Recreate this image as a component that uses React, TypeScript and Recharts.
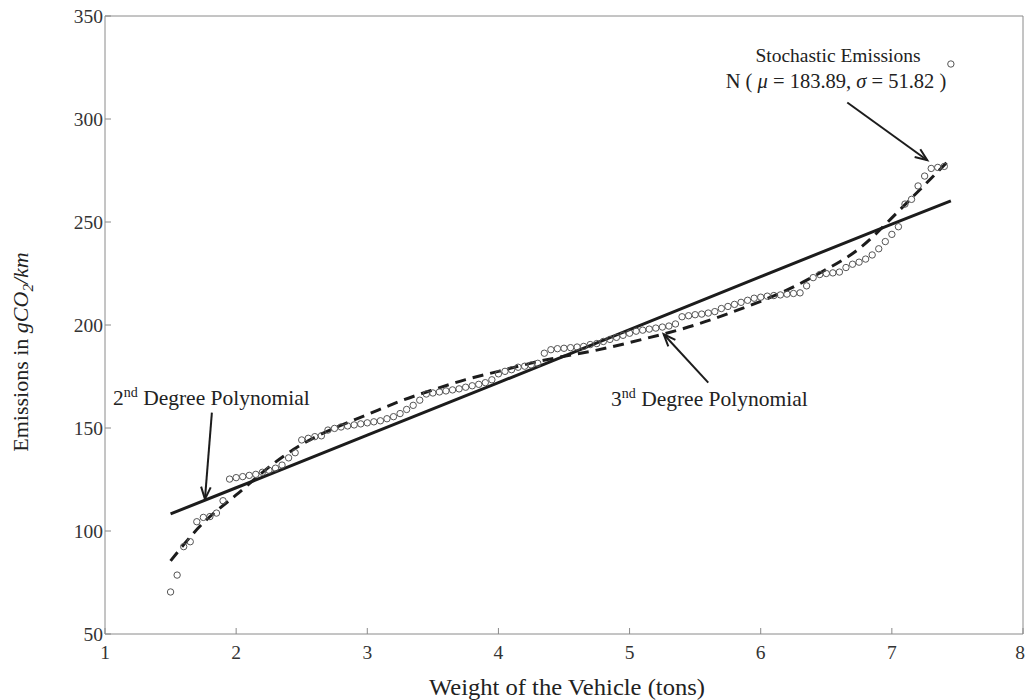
import React from "react"
import {
  ComposedChart,
  Scatter,
  Line,
  XAxis,
  YAxis,
  ReferenceLine,
} from "recharts"

const SERIF = "'Liberation Serif', 'Times New Roman', serif"

// vehicle weight (tons) for each sorted emission sample
const weights = [
  1.5, 1.55, 1.6, 1.65, 1.7, 1.75, 1.8, 1.85, 1.9, 1.95,
  2.0, 2.05, 2.1, 2.15, 2.2, 2.25, 2.3, 2.35, 2.4, 2.45,
  2.5, 2.55, 2.6, 2.65, 2.7, 2.75, 2.8, 2.85, 2.9, 2.95,
  3.0, 3.05, 3.1, 3.15, 3.2, 3.25, 3.3, 3.35, 3.4, 3.45,
  3.5, 3.55, 3.6, 3.65, 3.7, 3.75, 3.8, 3.85, 3.9, 3.95,
  4.0, 4.05, 4.1, 4.15, 4.2, 4.25, 4.3, 4.35, 4.4, 4.45,
  4.5, 4.55, 4.6, 4.65, 4.7, 4.75, 4.8, 4.85, 4.9, 4.95,
  5.0, 5.05, 5.1, 5.15, 5.2, 5.25, 5.3, 5.35, 5.4, 5.45,
  5.5, 5.55, 5.6, 5.65, 5.7, 5.75, 5.8, 5.85, 5.9, 5.95,
  6.0, 6.05, 6.1, 6.15, 6.2, 6.25, 6.3, 6.35, 6.4, 6.45,
  6.5, 6.55, 6.6, 6.65, 6.7, 6.75, 6.8, 6.85, 6.9, 6.95,
  7.0, 7.05, 7.1, 7.15, 7.2, 7.25, 7.3, 7.35, 7.4, 7.45,
]

// stochastic emissions (gCO2/km)
const emissions = [
  70.4, 78.6, 92.4, 94.8, 104.5, 106.6, 107, 108.7, 114.7, 125.2,
  125.9, 126.4, 127, 127.5, 128.5, 129.5, 130.5, 132, 135.5, 138,
  144.2, 145, 145.8, 146.2, 149, 149.8, 150.5, 151, 151.5, 152,
  152.5, 153, 153.5, 154.5, 155.5, 157, 159, 161, 163.5, 166.5,
  167, 167.5, 168, 168.5, 169, 169.8, 170.5, 171.2, 172, 173.4,
  176.3, 177.5, 178.3, 179.5, 180, 180.6, 181.4, 186.3, 188, 188.5,
  188.7, 189, 189.3, 189.6, 190.5, 191, 192, 193, 194, 195,
  196, 197, 197.5, 198, 198.5, 199, 199.5, 200.5, 204, 204.5,
  205, 205.3, 205.8, 206.5, 208, 209, 210, 211, 212, 213,
  213.5, 214, 214.3, 214.6, 215, 215.3, 215.6, 219, 223, 224.5,
  225, 225.3, 225.7, 227.9, 229.5, 230.5, 232, 234, 237, 240.5,
  244, 247.7, 258.7, 261, 267.5, 272.3, 276, 276.5, 277, 326.7,
]

// 2nd degree polynomial fit
const quadX = [1.5, 2, 3, 4, 5, 6, 7, 7.45]
const quadY = [108.3, 121, 146.5, 172, 197.8, 223.5, 249, 260.3]

// 3rd degree polynomial fit
const cubicX = [1.5, 1.75, 2, 2.25, 2.5, 2.75, 3, 3.25, 3.5, 3.75, 4, 4.25, 4.5, 4.75, 5, 5.25, 5.5, 5.75, 6, 6.25, 6.5, 6.75, 7, 7.25, 7.42]
const cubicY = [85.5, 104, 117.5, 131, 142, 150, 156.5, 163, 168.5, 173.5, 177.5, 181.5, 184.8, 187.8, 191.5, 195.5, 200, 205.5, 211.5, 218.5, 227, 237, 252, 268, 279]

const xTicks = [1, 2, 3, 4, 5, 6, 7, 8]
const yTicks = [50, 100, 150, 200, 250, 300, 350]

const scatterData = weights.map((x, i) => ({ x, y: emissions[i] }))
const quadData = quadX.map((x, i) => ({ x, y: quadY[i] }))
const cubicData = cubicX.map((x, i) => ({ x, y: cubicY[i] }))

// arrow annotations, data coordinates [from, to]
const arrows = [
  [{ x: 6.66, y: 308 }, { x: 7.27, y: 280 }],
  [{ x: 1.815, y: 157.5 }, { x: 1.762, y: 115.5 }],
  [{ x: 5.6, y: 172 }, { x: 5.26, y: 195.5 }],
]

const AXIS = "#8a8a8a"
const INK = "#1c1c1c"

function Circle(props: any) {
  const { cx, cy } = props
  if (cx == null || cy == null) return null
  return <circle cx={cx} cy={cy} r={3.2} fill="none" stroke="#555" strokeWidth={1} />
}

function Arrow(props: any) {
  const { x1, y1, x2, y2 } = props
  const a = Math.atan2(y2 - y1, x2 - x1)
  const len = 13
  const spread = 0.38
  const p1x = x2 - len * Math.cos(a - spread)
  const p1y = y2 - len * Math.sin(a - spread)
  const p2x = x2 - len * Math.cos(a + spread)
  const p2y = y2 - len * Math.sin(a + spread)
  return (
    <g>
      <line x1={x1} y1={y1} x2={x2} y2={y2} stroke={INK} strokeWidth={2} />
      <polyline points={`${p1x},${p1y} ${x2},${y2} ${p2x},${p2y}`} fill="none" stroke={INK} strokeWidth={2} />
    </g>
  )
}

export default function App() {
  return (
    <div style={{ position: "absolute", left: 0, top: 0, width: 1025, height: 700, background: "#fff" }}>
      <ComposedChart width={1025} height={700} margin={{ top: 15, right: 1, bottom: 36, left: 0 }}>
        <XAxis
          dataKey="x"
          type="number"
          domain={[1, 8]}
          ticks={xTicks}
          height={30}
          stroke={AXIS}
          tickSize={-6}
          tickMargin={17}
          tick={{ fontSize: 19.5, fill: "#333", fontFamily: SERIF }}
          allowDataOverflow
        />
        <XAxis
          xAxisId="top"
          orientation="top"
          type="number"
          domain={[1, 8]}
          ticks={xTicks}
          height={1}
          stroke={AXIS}
          tickSize={-6}
          tick={false}
        />
        <YAxis
          dataKey="y"
          type="number"
          domain={[50, 350]}
          ticks={yTicks}
          width={105}
          stroke={AXIS}
          tickSize={-6}
          tickMargin={8}
          tick={{ fontSize: 19.5, fill: "#333", fontFamily: SERIF }}
          allowDataOverflow
        />
        <YAxis
          yAxisId="right"
          orientation="right"
          type="number"
          domain={[50, 350]}
          ticks={yTicks}
          width={1}
          stroke={AXIS}
          tickSize={-6}
          tick={false}
        />
        <Line
          data={quadData}
          dataKey="y"
          type="linear"
          stroke={INK}
          strokeWidth={3}
          dot={false}
          isAnimationActive={false}
        />
        <Line
          data={cubicData}
          dataKey="y"
          type="natural"
          stroke={INK}
          strokeWidth={3}
          strokeDasharray="11 7"
          dot={false}
          isAnimationActive={false}
        />
        <Scatter data={scatterData} dataKey="y" shape={Circle} isAnimationActive={false} />
        {arrows.map((seg, i) => (
          <ReferenceLine key={i} segment={seg} ifOverflow="visible" shape={Arrow} />
        ))}
      </ComposedChart>
      <svg
        width={1025}
        height={700}
        style={{ position: "absolute", left: 0, top: 0, pointerEvents: "none" }}
        fontFamily={SERIF}
        fill="#222"
      >
        <text x={838} y={62} fontSize={19.5} textAnchor="middle">Stochastic Emissions</text>
        <text x={836} y={88} fontSize={20.5} textAnchor="middle">
          N ( <tspan fontStyle="italic">μ</tspan> = 183.89,  <tspan fontStyle="italic">σ</tspan> = 51.82 )
        </text>
        <text x={113} y={405} fontSize={21.5}>
          2<tspan dy={-8} fontSize={14}>nd</tspan><tspan dy={8}> Degree Polynomial</tspan>
        </text>
        <text x={611} y={406} fontSize={21.5}>
          3<tspan dy={-8} fontSize={14}>nd</tspan><tspan dy={8}> Degree Polynomial</tspan>
        </text>
        <text x={567} y={695} fontSize={23} textLength={276} lengthAdjust="spacingAndGlyphs" textAnchor="middle">Weight of the Vehicle (tons)</text>
        <text transform="translate(28, 352) rotate(-90)" fontSize={22} textAnchor="middle">
          Emissions in <tspan fontStyle="italic">gCO</tspan>
          <tspan fontStyle="italic" fontSize={15} dy={5}>2</tspan>
          <tspan fontStyle="italic" dy={-5}>/km</tspan>
        </text>
      </svg>
    </div>
  )
}
